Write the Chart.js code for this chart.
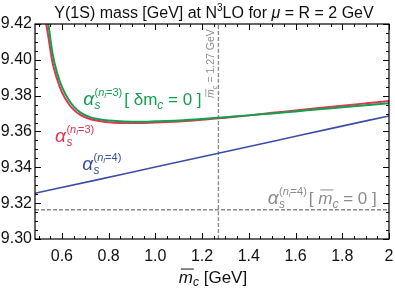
<!DOCTYPE html>
<html><head><meta charset="utf-8">
<script src="https://cdn.jsdelivr.net/npm/chart.js@4/dist/chart.umd.min.js"></script>
<style>html,body{margin:0;padding:0;background:#fff}</style>
</head><body>
<canvas id="c" width="395" height="288"></canvas>
<script>
// ---- data ----
const mcValues      = [0.532, 0.542, 0.56, 0.58, 0.60, 0.625, 0.65, 0.68, 0.72, 0.76, 0.80, 0.85, 0.90, 0.95, 1.0, 1.1, 1.2, 1.3, 1.4, 1.5, 1.6, 1.7, 1.8, 1.9, 2.0];
const massDeltaMc0  = [9.429, 9.420, 9.4036, 9.3925, 9.385, 9.3785, 9.374, 9.3705, 9.368, 9.3668, 9.3661, 9.3657, 9.3655, 9.3655, 9.3657, 9.3662, 9.3670, 9.3680, 9.3690, 9.3701, 9.3712, 9.3724, 9.3735, 9.3746, 9.3757];
const massNl3       = [9.421, 9.413, 9.3985, 9.389, 9.382, 9.3762, 9.3722, 9.3692, 9.3670, 9.3659, 9.3652, 9.3648, 9.3647, 9.3648, 9.3650, 9.3656, 9.3665, 9.3677, 9.3690, 9.3704, 9.3717, 9.3731, 9.3744, 9.3757, 9.3770];
const mcNl4         = [0.485, 0.75, 1.0, 1.25, 1.5, 1.75, 2.0];
const massNl4       = [9.3255, 9.3330, 9.3402, 9.3473, 9.3544, 9.3616, 9.3687];
const massNl4Mc0    = 9.3163;
const mcReference   = 1.27;
const xRange        = [0.485, 2.0];
const yRange        = [9.30, 9.42];
const xMajorStep = 0.2, xMinorStep = 0.05;
const yMajorStep = 0.02, yMinorStep = 0.005;

const FONT = "'Liberation Sans', Arial, Helvetica, sans-serif";
const GREEN = '#12a04f', RED = '#e8344e', BLUE = '#3b4ea6', GRAY = '#8c8c8c';

const pts = (xs, ys) => xs.map((x, i) => ({x, y: ys[i]}));

function txt(ctx, s, x, y, size, style) {
  ctx.font = (style || '') + ' ' + size + 'px ' + FONT;
  ctx.fillText(s, x, y);
  return ctx.measureText(s).width;
}
function alphaLabel(ctx, x, y, nl) {
  const w = txt(ctx, 'α', x, y, 19, 'italic');
  const sx = x + w + 0.5;
  txt(ctx, 's', sx, y + 4, 12, 'italic');
  let px = sx;
  px += txt(ctx, '(', px, y - 9, 11, '');
  px += txt(ctx, 'n', px, y - 9, 11, 'italic');
  px += txt(ctx, 'l', px, y - 7, 8, 'italic');
  px += txt(ctx, '=' + nl + ')', px, y - 9, 11, '');
  return px;
}
function mbar(ctx, x, y, size, lw) {
  const w = txt(ctx, 'm', x, y, size, 'italic');
  ctx.save();
  ctx.strokeStyle = ctx.fillStyle; ctx.lineWidth = lw || 1;
  ctx.beginPath(); ctx.moveTo(x + 0.12 * size, y - 0.82 * size); ctx.lineTo(x + w + 0.05 * size, y - 0.82 * size); ctx.stroke();
  ctx.restore();
  return w;
}

const framePlugin = {
  id: 'frame',
  afterDatasetsDraw(chart) {
    const {ctx, chartArea: a, scales: {x, y}} = chart;
    ctx.save();
    ctx.strokeStyle = '#000'; ctx.lineWidth = 1.2;
    ctx.strokeRect(a.left, a.top, a.right - a.left, a.bottom - a.top);
    ctx.lineWidth = 1;
    ctx.beginPath();
    const xs = x.ticks.map(t => t.value);
    for (let v = xs[0] - xMajorStep; v <= xRange[1] + 1e-9; v += xMinorStep) {
      if (v < xRange[0] - 1e-9) continue;
      const major = xs.some(m => Math.abs(m - v) < 1e-6);
      const len = major ? 6 : 3;
      const p = Math.round(x.getPixelForValue(v)) + 0.5;
      ctx.moveTo(p, a.bottom); ctx.lineTo(p, a.bottom - len);
      ctx.moveTo(p, a.top); ctx.lineTo(p, a.top + len);
    }
    const ys = y.ticks.map(t => t.value);
    for (let v = yRange[0]; v <= yRange[1] + 1e-9; v += yMinorStep) {
      const major = ys.some(m => Math.abs(m - v) < 1e-6);
      const len = major ? 6 : 3;
      const p = Math.round(y.getPixelForValue(v)) + 0.5;
      ctx.moveTo(a.left, p); ctx.lineTo(a.left + len, p);
      ctx.moveTo(a.right, p); ctx.lineTo(a.right - len, p);
    }
    ctx.stroke();

    ctx.textBaseline = 'alphabetic';
    ctx.textAlign = 'left';
    // green
    ctx.fillStyle = GREEN;
    let gx = x.getPixelForValue(0.691), gy = y.getPixelForValue(9.3748);
    let e = alphaLabel(ctx, gx, gy, 3);
    let px = e + 2;
    px += txt(ctx, '[ δm', px, gy, 17, '');
    px += txt(ctx, 'c', px, gy + 4, 12, 'italic');
    txt(ctx, ' = 0 ]', px, gy, 17, '');
    // red
    ctx.fillStyle = RED;
    alphaLabel(ctx, x.getPixelForValue(0.571), y.getPixelForValue(9.3542), 3);
    // blue
    ctx.fillStyle = BLUE;
    alphaLabel(ctx, x.getPixelForValue(0.687), y.getPixelForValue(9.3385), 4);
    // gray
    ctx.fillStyle = GRAY;
    gx = x.getPixelForValue(1.481); gy = y.getPixelForValue(9.3196);
    e = alphaLabel(ctx, gx, gy, 4);
    px = e + 2;
    px += txt(ctx, '[ ', px, gy, 17, '');
    px += mbar(ctx, px, gy, 17, 1);
    px += txt(ctx, 'c', px, gy + 4, 12, 'italic');
    txt(ctx, ' = 0 ]', px, gy, 17, '');
    // rotated reference label
    ctx.save();
    ctx.translate(x.getPixelForValue(mcReference) - 4, y.getPixelForValue(9.3787));
    ctx.rotate(-Math.PI / 2);
    px = 0;
    px += mbar(ctx, px, 0, 10.5, 0.8);
    px += txt(ctx, 'c', px, 2.5, 7.5, 'italic');
    txt(ctx, ' = 1.27 GeV', px, 0, 10.5, '');
    ctx.restore();
    ctx.restore();
  },
  afterDraw(chart) {
    const {ctx, chartArea: a} = chart;
    ctx.save();
    ctx.fillStyle = '#111';
    ctx.textBaseline = 'alphabetic';
    const parts = [
      ['Υ(1S) mass [GeV] at N', 16, '', 0],
      ['3', 10, '', -7],
      ['LO for ', 16, '', 0],
      ['μ', 16, 'italic', 0],
      [' = R = 2 GeV', 16, '', 0]
    ];
    let tw = 0;
    parts.forEach(p => { ctx.font = p[2] + ' ' + p[1] + 'px ' + FONT; tw += ctx.measureText(p[0]).width; });
    let px = (a.left + a.right) / 2 - tw / 2 + 2;
    parts.forEach(p => { px += txt(ctx, p[0], px, 17.5 + p[3], p[1], p[2]); });
    ctx.font = 'italic 17px ' + FONT; let w = ctx.measureText('m').width;
    ctx.font = 'italic 12px ' + FONT; w += ctx.measureText('c').width;
    ctx.font = '17px ' + FONT; w += ctx.measureText(' [GeV]').width;
    px = (a.left + a.right) / 2 - w / 2 + 1;
    const by = 283;
    px += mbar(ctx, px, by, 17, 1);
    px += txt(ctx, 'c', px, by + 3, 12, 'italic');
    txt(ctx, ' [GeV]', px, by, 17, '');
    ctx.restore();
  }
};

new Chart(document.getElementById('c'), {
  type: 'scatter',
  data: {
    datasets: [
      {data: pts(mcValues, massDeltaMc0), borderColor: GREEN, borderWidth: 2, order: 1},
      {data: pts(mcValues, massNl3), borderColor: RED, borderWidth: 2, order: 2},
      {data: pts(mcNl4, massNl4), borderColor: BLUE, borderWidth: 1.6, order: 3},
      {data: pts(xRange, [massNl4Mc0, massNl4Mc0]), borderColor: GRAY, borderWidth: 1.4, borderDash: [4, 2], order: 4},
      {data: pts([mcReference, mcReference], yRange), borderColor: GRAY, borderWidth: 1.4, borderDash: [4, 2], order: 5}
    ].map(d => Object.assign({showLine: true, pointRadius: 0, cubicInterpolationMode: 'monotone', fill: false}, d))
  },
  options: {
    responsive: false, animation: false, devicePixelRatio: 1,
    layout: {padding: {top: 24, right: 6, bottom: 0, left: 0}},
    plugins: {legend: {display: false}, tooltip: {enabled: false}, title: {display: false}},
    scales: {
      x: {
        type: 'linear', min: xRange[0], max: xRange[1],
        grid: {display: false, drawTicks: false}, border: {display: false},
        ticks: {stepSize: xMajorStep, includeBounds: false, autoSkip: false, maxRotation: 0, minRotation: 0,
          padding: 8, color: '#111', font: {family: FONT, size: 16},
          callback: v => Math.abs(v - 2) < 1e-9 ? '2' : v.toFixed(1)},
        afterFit: s => { s.height = 49; s.paddingLeft = 0; s.paddingRight = 0; }
      },
      y: {
        type: 'linear', min: yRange[0], max: yRange[1],
        grid: {display: false, drawTicks: false}, border: {display: false},
        ticks: {stepSize: yMajorStep, autoSkip: false, padding: 3, color: '#111', font: {family: FONT, size: 16},
          callback: v => v.toFixed(2)},
        afterFit: s => { s.width = 35; }
      }
    }
  },
  plugins: [framePlugin]
});
</script>
</body></html>
